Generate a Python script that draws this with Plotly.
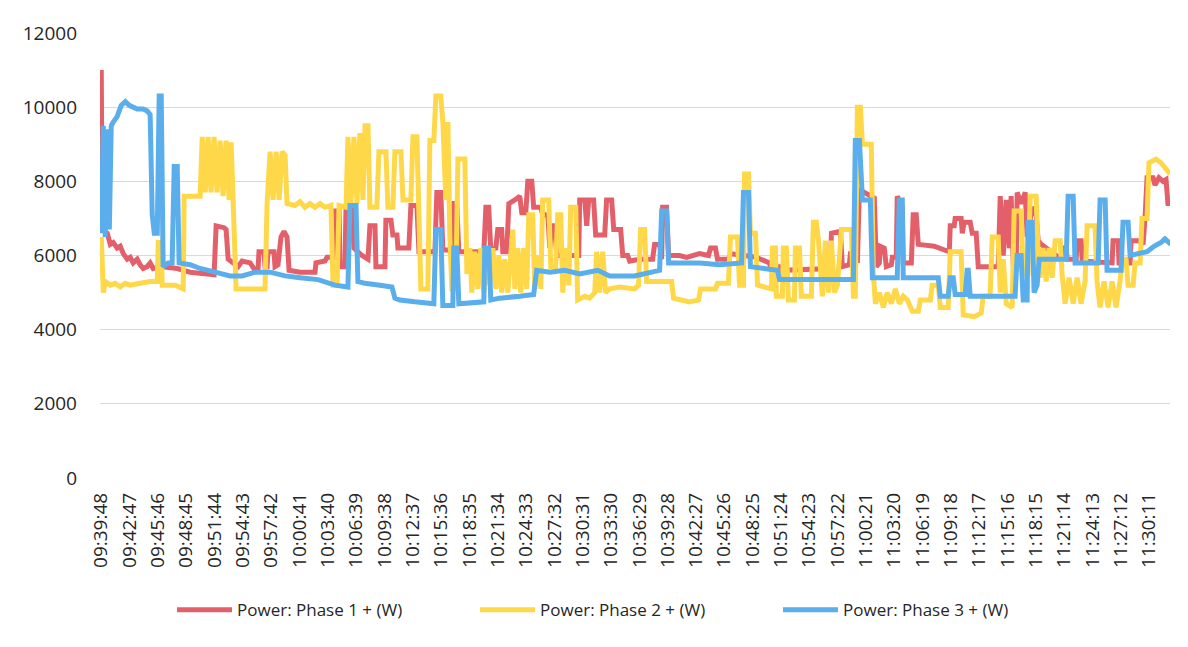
import plotly.graph_objects as go

# time axis: seconds elapsed since 09:39:48
tick_labels = ["09:39:48", "09:42:47", "09:45:46", "09:48:45", "09:51:44", "09:54:43",
               "09:57:42", "10:00:41", "10:03:40", "10:06:39", "10:09:38", "10:12:37",
               "10:15:36", "10:18:35", "10:21:34", "10:24:33", "10:27:32", "10:30:31",
               "10:33:30", "10:36:29", "10:39:28", "10:42:27", "10:45:26", "10:48:25",
               "10:51:24", "10:54:23", "10:57:22", "11:00:21", "11:03:20", "11:06:19",
               "11:09:18", "11:12:17", "11:15:16", "11:18:15", "11:21:14", "11:24:13",
               "11:27:12", "11:30:11"]
tick_step_s = 179

phase1_t = [0, 6, 38, 57, 76, 101, 120, 139, 164, 183, 202, 227, 246, 265, 290, 309, 328, 372, 480, 562,
            713, 726, 776, 789, 802, 865, 890, 941, 972, 991, 997, 1029, 1035, 1048, 1054, 1092, 1098, 1117,
            1136, 1155, 1174, 1187, 1256, 1351, 1357, 1414, 1427, 1465, 1477, 1503, 1509, 1540, 1547, 1585,
            1597, 1648, 1686, 1698, 1730, 1736, 1793, 1799, 1831, 1843, 1869, 1875, 1944, 1957, 1995, 2008,
            2109, 2121, 2146, 2159, 2216, 2228, 2247, 2260, 2418, 2431, 2449, 2462, 2494, 2506, 2531, 2538,
            2563, 2576, 2614, 2645, 2658, 2683, 2696, 2721, 2733, 2778, 2790, 2822, 2835, 2847, 2866, 2879,
            3018, 3024, 3056, 3068, 3081, 3112, 3125, 3182, 3194, 3226, 3239, 3283, 3296, 3327, 3340, 3403,
            3485, 3497, 3529, 3542, 3548, 3573, 3586, 3655, 3700, 3781, 3838, 3851, 3882, 3895, 3964, 3977,
            4066, 4141, 4223, 4236, 4274, 4280, 4299, 4305, 4608, 4615, 4672, 4684, 4728, 4735, 4766, 4779,
            4792, 4823, 4886, 4899, 4918, 4924, 4949, 4962, 4994, 5000, 5025, 5031, 5063, 5069, 5120, 5132,
            5151, 5164, 5265, 5360, 5366, 5391, 5397, 5435, 5442, 5454, 5492, 5505, 5530, 5543, 5669, 5682,
            5701, 5720, 5739, 5751, 5764, 5783, 5789, 5814, 5840, 5852, 5884, 5909, 5922, 5941, 6067, 6073,
            6099, 6105, 6162, 6168, 6193, 6200, 6389, 6395, 6427, 6433, 6503, 6509, 6559, 6585, 6597, 6610,
            6648, 6660, 6685, 6711, 6730, 6742, 6761]
phase1_w = [11000, 6700, 6600, 6300, 6350, 6200, 6250, 6050, 5900, 5950, 5800, 5900, 5750, 5650, 5700, 5800, 5650, 5700, 5650, 5550,
            5480, 6800, 6750, 6700, 5900, 5700, 5850, 5800, 5600, 5650, 6100, 6100, 5700, 5700, 6100, 6100, 5700, 5750,
            6500, 6650, 6500, 5600, 5550, 5550, 5800, 5850, 5950, 5950, 7200, 7200, 5700, 5700, 7300, 7300,
            6200, 6000, 5900, 6800, 6800, 5700, 5700, 6950, 6950, 6550, 6550, 6200, 6200, 7350, 7350, 6100,
            6100, 7700, 7700, 6150, 6150, 7400, 7400, 6100, 6100, 7300, 7300, 6150, 6200, 6700, 6700, 6100,
            6100, 7400, 7500, 7600, 7150, 7150, 8000, 8000, 7300, 7300, 7100, 7100, 6200, 6800, 6800, 6000,
            6000, 7500, 7500, 6800, 7500, 7500, 6550, 6550, 7500, 7500, 6700, 6700, 6000, 6000, 5850, 5900,
            5900, 6300, 6300, 5900, 7300, 7300, 6000, 6000, 5950, 6050, 6000, 6200, 6200, 5900, 5900, 6050,
            6000, 5950, 5800, 5600, 5600, 5700, 5700, 5600, 5650, 6600, 6650, 5700, 5750, 6050, 6050, 5800,
            7800, 7700, 7550, 5700, 5800, 6250, 6200, 5700, 5750, 5950, 5950, 7600, 7300, 5800, 5800, 7100,
            7100, 6300, 6250, 6100, 6800, 6800, 7000, 7000, 6600, 6900, 6900, 6600, 6600, 5700, 5700, 7600,
            6000, 7500, 6200, 7600, 5800, 5800, 7700, 7400, 7700, 6500, 7300, 7100, 6400, 6300, 5900, 6200,
            6200, 5900, 5900, 6400, 6400, 5850, 5800, 6400, 6400, 5800, 5800, 6400, 6400, 6300, 7000, 8100,
            8100, 7900, 8100, 8000, 8050, 7400, 7400]

phase2_t = [0, 13, 25, 57, 88, 120, 152, 183, 246, 309, 354, 360, 379, 385, 467, 518, 524, 625, 638, 657,
            675, 694, 713, 732, 751, 770, 789, 808, 821, 833, 852, 1035, 1048, 1067, 1086, 1105, 1124, 1143,
            1162, 1174, 1225, 1256, 1288, 1319, 1351, 1383, 1414, 1452, 1465, 1490, 1503, 1547, 1559, 1578,
            1597, 1616, 1635, 1654, 1667, 1686, 1698, 1742, 1755, 1799, 1812, 1843, 1856, 1894, 1907, 1957,
            1970, 1995, 2008, 2020, 2064, 2077, 2102, 2115, 2146, 2159, 2178, 2191, 2203, 2216, 2241, 2254,
            2298, 2311, 2330, 2342, 2361, 2380, 2399, 2418, 2437, 2456, 2475, 2494, 2513, 2531, 2550, 2569,
            2588, 2601, 2614, 2633, 2651, 2670, 2689, 2702, 2727, 2740, 2759, 2778, 2790, 2828, 2841, 2872,
            2885, 2904, 2917, 2936, 2955, 2967, 2999, 3011, 3056, 3087, 3119, 3131, 3150, 3169, 3188, 3213,
            3276, 3371, 3396, 3409, 3434, 3447, 3605, 3617, 3718, 3775, 3788, 3882, 3895, 3964, 3977, 4021,
            4034, 4059, 4066, 4091, 4103, 4135, 4148, 4223, 4236, 4242, 4261, 4267, 4305, 4311, 4330, 4343,
            4381, 4387, 4413, 4425, 4488, 4501, 4520, 4533, 4558, 4577, 4596, 4615, 4634, 4653, 4678, 4741,
            4754, 4766, 4779, 4798, 4811, 4867, 4880, 4893, 4918, 4943, 4968, 4994, 5019, 5044, 5069, 5095,
            5126, 5164, 5177, 5240, 5252, 5290, 5303, 5353, 5366, 5435, 5448, 5518, 5562, 5574, 5618, 5631,
            5669, 5682, 5701, 5720, 5757, 5770, 5814, 5827, 5858, 5871, 5909, 5922, 5934, 5953, 5972, 5991,
            6010, 6029, 6061, 6073, 6092, 6117, 6143, 6168, 6193, 6218, 6231, 6281, 6294, 6313, 6338, 6364,
            6389, 6414, 6439, 6452, 6477, 6490, 6522, 6534, 6566, 6578, 6610, 6622, 6667, 6698, 6730, 6755]
phase2_w = [6500, 5000, 5300, 5200, 5250, 5150, 5250, 5200, 5250, 5300, 5300, 6350, 6350, 5200, 5200, 5100, 7600, 7600, 9200, 7700,
            9200, 7700, 9200, 7700, 9100, 7600, 9100, 7500, 9050, 7400, 5100, 5100, 7400, 8800, 7500, 8800, 7500, 8800,
            8700, 7400, 7350, 7450, 7300, 7400, 7300, 7400, 7300, 7350, 5200, 5200, 7350, 7300, 9200, 7400,
            9200, 7400, 9300, 7500, 9500, 9500, 7300, 7300, 8800, 8800, 7300, 7300, 8800, 8800, 7500, 7500,
            9200, 9200, 6100, 5100, 5100, 9100, 9100, 10300, 10300, 9600, 7500, 9600, 6500, 5100, 5100, 8600,
            8600, 5500, 6200, 5000, 6100, 5100, 6200, 5000, 6100, 5200, 6200, 5100, 6000, 5000, 5900, 5000,
            6000, 6700, 5100, 6200, 5000, 6200, 5100, 7100, 7100, 5100, 6000, 5100, 7500, 7500, 5700, 5700,
            7100, 7100, 5000, 6200, 5200, 7300, 7300, 4800, 4900, 4850, 5000, 6100, 5000, 6100, 5000, 5100,
            5150, 5100, 5200, 6700, 6700, 5300, 5300, 4850, 4750, 4800, 5100, 5100, 5250, 5250, 6500, 6500,
            5200, 5200, 8200, 8200, 6600, 6600, 5200, 5100, 5100, 6200, 6200, 4900, 4900, 6200, 6200, 4800,
            4800, 6200, 6200, 4900, 4900, 6900, 6900, 6400, 4900, 6400, 5000, 6400, 5000, 5200, 6700, 6700,
            4900, 4900, 10000, 10000, 9000, 9000, 5500, 4700, 5000, 4600, 5000, 4700, 5100, 4700, 4900, 4800,
            4500, 4500, 4800, 4800, 5200, 5200, 4600, 4600, 6100, 6100, 4400, 4350, 4450, 4900, 4900, 6500,
            6500, 5000, 5900, 4700, 4600, 7200, 7200, 5500, 5500, 7600, 7600, 6000, 5400, 6200, 5300, 6200,
            5400, 6400, 6400, 5500, 4700, 5400, 4700, 5400, 4700, 5300, 6800, 6800, 5300, 4600, 5300, 4600,
            5300, 4600, 5300, 5900, 5900, 5200, 5200, 5800, 5800, 7000, 7000, 8500, 8600, 8500, 8300, 8200]

phase3_t = [0, 13, 25, 38, 51, 63, 76, 101, 126, 152, 177, 202, 227, 265, 290, 309, 322, 335, 354, 366,
            379, 391, 423, 448, 461, 480, 492, 562, 625, 720, 814, 890, 972, 1067, 1162, 1256, 1370, 1477,
            1559, 1572, 1610, 1622, 1667, 1761, 1837, 1856, 1888, 1982, 2102, 2115, 2146, 2159, 2222, 2228,
            2247, 2260, 2418, 2424, 2449, 2462, 2519, 2645, 2733, 2752, 2835, 2929, 3024, 3138, 3213, 3371,
            3529, 3542, 3573, 3586, 3781, 3908, 4047, 4059, 4091, 4103, 4223, 4274, 4287, 4754, 4766, 4792,
            4811, 4861, 4874, 5031, 5044, 5063, 5069, 5290, 5303, 5353, 5366, 5385, 5397, 5461, 5473, 5480,
            5492, 5776, 5789, 5814, 5827, 5852, 5858, 5884, 5896, 5915, 5928, 6099, 6111, 6143, 6155, 6301,
            6313, 6345, 6357, 6446, 6458, 6490, 6503, 6610, 6654, 6698, 6723, 6742, 6761]
phase3_w = [6600, 9500, 6500, 9400, 6700, 9500, 9600, 9750, 10050, 10150, 10050, 10000, 9950, 9950, 9900, 9800, 7100, 6600, 6600, 10300,
            10300, 5700, 5800, 5800, 8400, 8400, 5800, 5750, 5650, 5550, 5450, 5450, 5550, 5550, 5450, 5400, 5350, 5200,
            5150, 7350, 7350, 5300, 5250, 5200, 5150, 4850, 4800, 4750, 4700, 6700, 6700, 4650, 4650, 6200,
            6200, 4700, 4750, 6200, 6200, 4800, 4850, 4900, 4950, 5600, 5550, 5600, 5500, 5600, 5450, 5450,
            5600, 7200, 7200, 5800, 5800, 5750, 5800, 7700, 7700, 5700, 5650, 5600, 5350, 5350, 9100, 9100,
            7500, 7500, 5400, 5400, 7500, 7500, 5400, 5400, 4900, 4900, 5400, 5400, 4950, 4950, 5600, 5600,
            4900, 4900, 6000, 6000, 4800, 4800, 6900, 6900, 5000, 5200, 5900, 5900, 7600, 7600, 5800, 5800,
            7500, 7500, 5600, 5600, 6900, 6900, 6000, 6100, 6250, 6350, 6450, 6350, 6300]

series = [
    ("Power: Phase 1 + (W)", phase1_t, phase1_w, "#E3606B"),
    ("Power: Phase 2 + (W)", phase2_t, phase2_w, "#FFD84A"),
    ("Power: Phase 3 + (W)", phase3_t, phase3_w, "#5AAEEB"),
]

fig = go.Figure()
for name, t, w, col in series:
    fig.add_trace(go.Scatter(x=t, y=w, mode="lines", name=name,
                             line=dict(color=col, width=5)))

font_family = "Open Sans, Noto Sans, sans-serif"
fig.update_layout(
    width=1180, height=639,
    margin=dict(l=92, r=18, t=25, b=169, autoexpand=False),
    paper_bgcolor="white", plot_bgcolor="white",
    font=dict(family=font_family, color="#262626"),
    showlegend=True,
    legend=dict(orientation="h", x=0.0673, xanchor="left", y=-0.297, yanchor="middle",
                font=dict(size=17, color="#262626"), entrywidth=233, entrywidthmode="pixels",
                itemwidth=55, bgcolor="rgba(0,0,0,0)", tracegroupgap=0),
    xaxis=dict(range=[-8, 6755], tickmode="array",
               tickvals=[i * tick_step_s for i in range(len(tick_labels))],
               ticktext=tick_labels, tickangle=-90, tickfont=dict(size=19),
               showgrid=False, zeroline=False, showline=False, ticks="",
               ticklabelstandoff=10, automargin=False),
    yaxis=dict(range=[0, 12000], dtick=2000, tickfont=dict(size=19),
               gridcolor="#D9D9D9", gridwidth=1, zeroline=False, showline=False,
               ticks="", ticklabelstandoff=22, tickformat="d", automargin=False),
)

fig.write_html("out.html")
